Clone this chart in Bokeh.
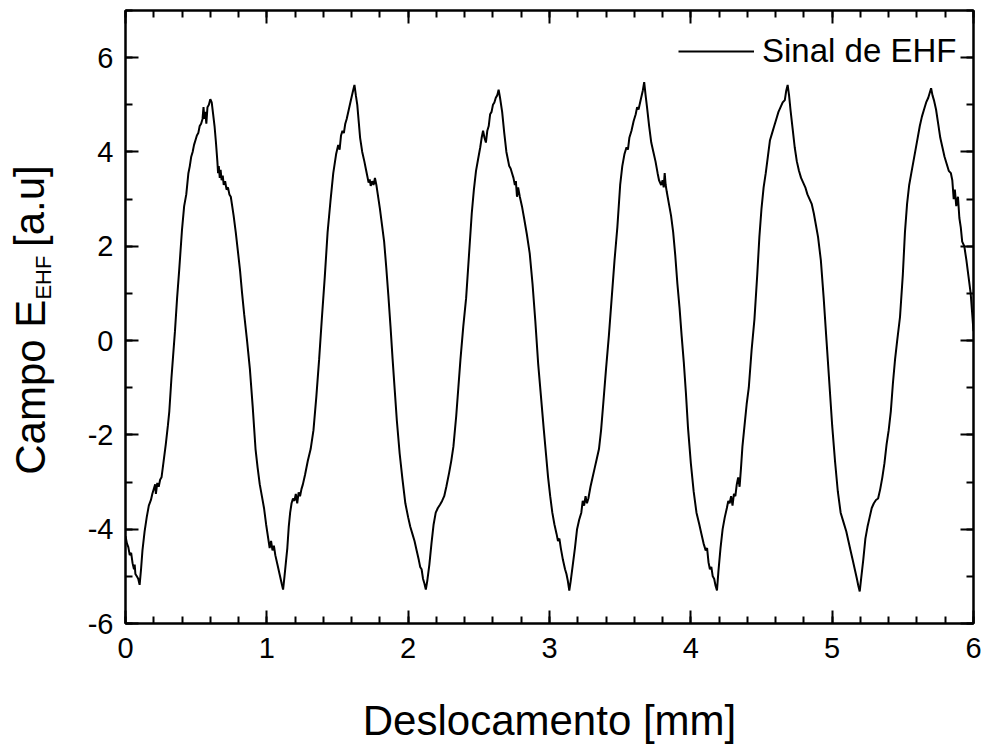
from math import pi
from bokeh.plotting import figure
from bokeh.layouts import row
from bokeh.models import (LinearAxis, SingleIntervalTicker, Label, Range1d, Legend,
                          CustomJSTickFormatter)
from bokeh.embed import file_html
from bokeh.resources import INLINE

# ---- data (displacement [mm], field [a.u]) ----
disp = [
    0.000, 0.010, 0.020, 0.030, 0.040, 0.050, 0.060, 0.065, 0.070, 0.080, 0.090, 0.100, 0.110, 0.120,
    0.135, 0.150, 0.165, 0.180, 0.190, 0.200, 0.210, 0.215, 0.225, 0.235, 0.245, 0.255, 0.270, 0.285,
    0.300, 0.310, 0.325, 0.335, 0.350, 0.365, 0.380, 0.400, 0.415, 0.430, 0.445, 0.455, 0.465, 0.475,
    0.485, 0.495, 0.505, 0.515, 0.525, 0.535, 0.545, 0.552, 0.558, 0.565, 0.572, 0.580, 0.590, 0.600,
    0.610, 0.620, 0.630, 0.640, 0.650, 0.655, 0.660, 0.667, 0.673, 0.680, 0.688, 0.695, 0.705, 0.715,
    0.725, 0.735, 0.745, 0.755, 0.765, 0.780, 0.795, 0.810, 0.825, 0.840, 0.860, 0.880, 0.900, 0.920,
    0.935, 0.950, 0.965, 0.980, 0.995, 1.010, 1.020, 1.030, 1.040, 1.050, 1.060, 1.075, 1.090, 1.105,
    1.115, 1.125, 1.135, 1.145, 1.155, 1.165, 1.175, 1.185, 1.195, 1.205, 1.215, 1.225, 1.235, 1.245,
    1.255, 1.270, 1.290, 1.310, 1.330, 1.350, 1.370, 1.390, 1.410, 1.430, 1.450, 1.470, 1.490, 1.505,
    1.515, 1.525, 1.535, 1.545, 1.555, 1.565, 1.580, 1.595, 1.610, 1.620, 1.630, 1.640, 1.650, 1.660,
    1.675, 1.690, 1.700, 1.710, 1.720, 1.728, 1.735, 1.745, 1.755, 1.765, 1.775, 1.785, 1.800, 1.815,
    1.830, 1.845, 1.860, 1.875, 1.890, 1.905, 1.920, 1.940, 1.960, 1.980, 2.000, 2.015, 2.030, 2.045,
    2.060, 2.075, 2.085, 2.095, 2.105, 2.115, 2.125, 2.135, 2.150, 2.165, 2.180, 2.195, 2.210, 2.225,
    2.240, 2.255, 2.270, 2.290, 2.305, 2.320, 2.340, 2.355, 2.370, 2.390, 2.410, 2.430, 2.450, 2.465,
    2.480, 2.495, 2.510, 2.520, 2.530, 2.540, 2.550, 2.560, 2.570, 2.580, 2.590, 2.600, 2.610, 2.620,
    2.630, 2.640, 2.650, 2.665, 2.680, 2.695, 2.705, 2.715, 2.725, 2.735, 2.745, 2.755, 2.762, 2.770,
    2.778, 2.790, 2.805, 2.820, 2.840, 2.860, 2.880, 2.900, 2.920, 2.940, 2.960, 2.975, 2.990, 3.005,
    3.020, 3.035, 3.050, 3.060, 3.070, 3.080, 3.095, 3.110, 3.120, 3.130, 3.140, 3.150, 3.165, 3.180,
    3.195, 3.210, 3.225, 3.235, 3.245, 3.255, 3.265, 3.275, 3.290, 3.305, 3.320, 3.335, 3.350, 3.365,
    3.380, 3.400, 3.420, 3.440, 3.460, 3.480, 3.500, 3.515, 3.530, 3.545, 3.555, 3.565, 3.580, 3.595,
    3.610, 3.620, 3.630, 3.645, 3.660, 3.670, 3.680, 3.690, 3.705, 3.720, 3.735, 3.750, 3.765, 3.775,
    3.790, 3.800, 3.808, 3.815, 3.822, 3.830, 3.845, 3.860, 3.875, 3.890, 3.905, 3.920, 3.935, 3.950,
    3.965, 3.980, 4.000, 4.020, 4.040, 4.060, 4.075, 4.090, 4.105, 4.115, 4.125, 4.135, 4.145, 4.155,
    4.165, 4.175, 4.185, 4.195, 4.210, 4.225, 4.240, 4.255, 4.265, 4.275, 4.285, 4.295, 4.305, 4.315,
    4.325, 4.335, 4.345, 4.355, 4.365, 4.380, 4.395, 4.410, 4.430, 4.450, 4.470, 4.485, 4.500, 4.515,
    4.530, 4.545, 4.560, 4.575, 4.590, 4.605, 4.620, 4.635, 4.650, 4.665, 4.675, 4.685, 4.695, 4.705,
    4.720, 4.735, 4.750, 4.765, 4.780, 4.795, 4.810, 4.825, 4.840, 4.855, 4.870, 4.885, 4.900, 4.920,
    4.940, 4.960, 4.980, 5.000, 5.020, 5.040, 5.060, 5.080, 5.100, 5.115, 5.130, 5.145, 5.160, 5.175,
    5.185, 5.195, 5.205, 5.220, 5.235, 5.250, 5.265, 5.280, 5.295, 5.310, 5.325, 5.340, 5.355, 5.370,
    5.385, 5.400, 5.415, 5.430, 5.445, 5.460, 5.480, 5.500, 5.515, 5.530, 5.545, 5.560, 5.575, 5.590,
    5.605, 5.620, 5.635, 5.650, 5.665, 5.680, 5.690, 5.700, 5.710, 5.720, 5.735, 5.750, 5.765, 5.780,
    5.795, 5.810, 5.825, 5.840, 5.850, 5.860, 5.868, 5.878, 5.890, 5.900, 5.910, 5.920, 5.935, 5.950,
    5.965, 5.980, 5.990, 6.000,
]
field = [
    -4.15, -4.30, -4.38, -4.55, -4.50, -4.72, -4.85, -4.75, -4.95, -5.00, -5.05, -5.18, -4.85, -4.45,
    -4.05, -3.75, -3.50, -3.38, -3.25, -3.15, -3.05, -3.25, -3.02, -3.10, -2.95, -2.90, -2.55, -2.20,
    -1.80, -1.50, -0.80, -0.40, 0.20, 0.90, 1.50, 2.36, 2.85, 3.10, 3.55, 3.70, 3.90, 4.00,
    4.15, 4.25, 4.35, 4.40, 4.55, 4.60, 4.70, 4.95, 4.70, 4.85, 4.60, 4.95, 5.00, 5.12,
    5.05, 4.80, 4.55, 4.20, 3.80, 3.55, 3.70, 3.45, 3.62, 3.40, 3.50, 3.30, 3.38, 3.20,
    3.25, 3.10, 3.05, 2.85, 2.65, 2.30, 1.90, 1.50, 1.00, 0.55, 0.00, -0.60, -1.40, -2.30,
    -2.70, -3.05, -3.30, -3.55, -3.90, -4.20, -4.40, -4.25, -4.45, -4.35, -4.55, -4.75, -4.95, -5.15,
    -5.28, -5.00, -4.70, -4.40, -3.95, -3.65, -3.45, -3.35, -3.40, -3.25, -3.45, -3.22, -3.30, -3.15,
    -3.05, -2.85, -2.55, -2.30, -1.90, -1.20, -0.40, 0.50, 1.35, 2.30, 2.95, 3.55, 3.95, 4.15,
    4.05, 4.35, 4.45, 4.40, 4.60, 4.70, 4.90, 5.10, 5.30, 5.42, 5.20, 5.00, 4.65, 4.30,
    4.00, 3.80, 3.65, 3.50, 3.35, 3.42, 3.28, 3.38, 3.30, 3.45, 3.30, 3.10, 2.80, 2.45,
    2.10, 1.55, 0.95, 0.30, -0.40, -1.05, -1.70, -2.40, -2.95, -3.45, -3.75, -3.95, -4.10, -4.25,
    -4.45, -4.65, -4.80, -4.85, -5.05, -5.15, -5.28, -5.10, -4.75, -4.30, -3.90, -3.65, -3.55, -3.48,
    -3.40, -3.30, -3.10, -2.80, -2.55, -2.25, -1.60, -1.00, -0.40, 0.30, 0.90, 1.80, 2.70, 3.20,
    3.60, 3.85, 4.10, 4.30, 4.45, 4.30, 4.20, 4.45, 4.55, 4.80, 4.85, 5.00, 5.05, 5.15,
    5.20, 5.32, 5.15, 4.85, 4.40, 4.00, 3.85, 3.70, 3.65, 3.55, 3.45, 3.30, 3.38, 3.05,
    3.25, 3.05, 2.85, 2.60, 2.25, 1.85, 1.20, 0.40, -0.50, -1.20, -1.90, -2.40, -2.90, -3.30,
    -3.65, -3.90, -4.10, -4.25, -4.20, -4.40, -4.65, -4.85, -4.95, -5.10, -5.30, -5.10, -4.75, -4.40,
    -4.00, -3.80, -3.65, -3.40, -3.50, -3.30, -3.45, -3.35, -3.10, -2.90, -2.70, -2.50, -2.30, -1.90,
    -1.35, -0.60, 0.10, 0.90, 1.70, 2.40, 3.30, 3.70, 3.95, 4.10, 4.05, 4.30, 4.45, 4.65,
    4.80, 4.95, 4.90, 5.10, 5.30, 5.48, 5.20, 4.95, 4.55, 4.20, 4.00, 3.80, 3.55, 3.40,
    3.30, 3.40, 3.25, 3.55, 3.30, 3.15, 2.90, 2.65, 2.30, 1.80, 1.20, 0.70, 0.10, -0.45,
    -1.10, -1.85, -2.60, -3.20, -3.65, -3.90, -4.10, -4.30, -4.45, -4.40, -4.70, -4.85, -4.80, -5.00,
    -5.05, -5.20, -5.30, -4.90, -4.40, -4.00, -3.75, -3.55, -3.40, -3.45, -3.30, -3.50, -3.25, -3.30,
    -3.05, -2.90, -3.10, -2.70, -2.25, -1.80, -1.35, -1.00, -0.20, 0.45, 1.40, 2.20, 2.80, 3.25,
    3.55, 3.90, 4.25, 4.40, 4.55, 4.70, 4.85, 4.95, 5.05, 5.10, 5.30, 5.42, 5.20, 4.90,
    4.50, 4.10, 3.80, 3.60, 3.45, 3.35, 3.25, 3.10, 3.00, 2.90, 2.70, 2.45, 2.20, 1.70,
    0.90, 0.00, -0.90, -1.80, -2.55, -3.20, -3.65, -3.85, -4.05, -4.25, -4.45, -4.65, -4.85, -5.05,
    -5.20, -5.32, -5.05, -4.65, -4.20, -3.95, -3.75, -3.55, -3.45, -3.38, -3.35, -3.15, -2.90, -2.60,
    -2.20, -1.90, -1.50, -0.90, -0.40, 0.00, 0.50, 1.40, 2.30, 2.90, 3.30, 3.55, 3.80, 4.05,
    4.30, 4.55, 4.75, 4.90, 5.05, 5.15, 5.25, 5.35, 5.20, 5.10, 4.90, 4.60, 4.30, 4.10,
    3.90, 3.75, 3.60, 3.55, 3.40, 3.00, 3.20, 2.85, 3.05, 2.60, 2.40, 2.10, 2.00, 1.70,
    1.35, 1.00, 0.60, 0.20,
]

series_label = "Sinal de EHF"
x_title = "Deslocamento [mm]"
y_title_main = "Campo E"
y_title_sub = "EHF"
y_title_unit = "[a.u]"

FONT = "Liberation Sans"
H = 746

# ---- main plot ----
p = figure(width=924, height=H, output_backend="svg", toolbar_location=None,
           x_range=Range1d(0, 6), y_range=Range1d(-6, 7),
           min_border_left=65, min_border_right=11, min_border_top=10, min_border_bottom=113)
p.xgrid.visible = False
p.ygrid.visible = False
p.outline_line_color = "black"
p.outline_line_width = 2
p.background_fill_color = "white"
p.border_fill_color = "white"

r = p.line(disp, field, line_color="black", line_width=2.0)

xticker = SingleIntervalTicker(interval=1, num_minor_ticks=5)
yticker = SingleIntervalTicker(interval=2, num_minor_ticks=2)
plain_fmt = CustomJSTickFormatter(code="return String(tick);")
blank_fmt = CustomJSTickFormatter(code="return '';")


def style(ax, labels=True):
    ax.axis_line_width = 2
    ax.axis_line_color = "black"
    ax.major_tick_in = 13
    ax.major_tick_out = 0
    ax.minor_tick_in = 7
    ax.minor_tick_out = 0
    ax.major_tick_line_width = 2
    ax.minor_tick_line_width = 2
    ax.major_tick_line_color = "black"
    ax.minor_tick_line_color = "black"
    ax.major_label_text_font = FONT
    ax.major_label_text_color = "black"
    ax.major_label_text_font_size = "29px"
    if labels:
        ax.formatter = plain_fmt
    else:
        ax.formatter = blank_fmt
        ax.major_label_standoff = 0


xa = p.xaxis[0]
ya = p.yaxis[0]
xa.ticker = xticker
ya.ticker = yticker
style(xa)
style(ya)
xa.major_label_standoff = 14
ya.major_label_standoff = 12
xa.axis_label = x_title
xa.axis_label_text_font = FONT
xa.axis_label_text_font_size = "42px"
xa.axis_label_text_font_style = "normal"
xa.axis_label_text_color = "black"
xa.axis_label_standoff = 36

top = LinearAxis(ticker=xticker)
style(top, labels=False)
p.add_layout(top, "above")
right = LinearAxis(ticker=yticker)
style(right, labels=False)
p.add_layout(right, "right")

legend = Legend(items=[(series_label, [r])], location=(553, 553),
                border_line_color=None, background_fill_alpha=0,
                label_text_font=FONT, label_text_font_size="33px", label_text_color="black",
                glyph_width=76, glyph_height=36, label_height=36, label_standoff=8,
                padding=0, margin=0, spacing=0)
p.add_layout(legend)

# ---- rotated y-axis title (with subscript) in a narrow side panel ----
yt = figure(width=60, height=H, output_backend="svg", toolbar_location=None,
            x_range=Range1d(0, 60), y_range=Range1d(0, H),
            x_axis_type=None, y_axis_type=None,
            min_border_left=0, min_border_right=0, min_border_top=0, min_border_bottom=0)
yt.grid.visible = False
yt.outline_line_color = None
yt.background_fill_color = "white"
yt.border_fill_color = "white"

common = dict(angle=pi / 2, angle_units="rad", text_font=FONT, text_color="black",
              text_baseline="middle", text_align="center")
yt.add_layout(Label(x=30, y=287.5, text=y_title_main, text_font_size="42px", **common))
yt.add_layout(Label(x=42.5, y=421, text=y_title_sub, text_font_size="22px", **common))
yt.add_layout(Label(x=29, y=508, text=y_title_unit, text_font_size="42px", **common))

layout = row(yt, p, spacing=0)
open("out.html", "w").write(file_html(layout, INLINE))
